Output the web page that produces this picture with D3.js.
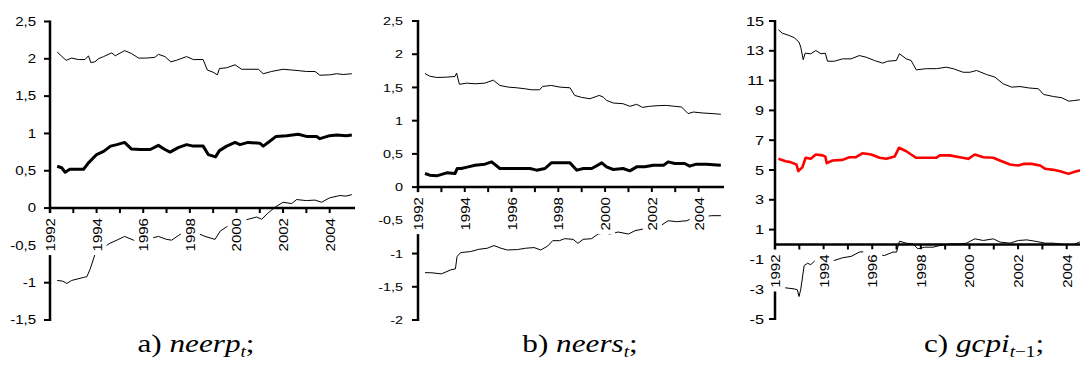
<!DOCTYPE html>
<html>
<head>
<meta charset="utf-8">
<script src="https://cdn.jsdelivr.net/npm/d3@7"></script>
<style>
  body { margin: 0; background: #fff; }
</style>
</head>
<body>
<svg id="chart" width="1080" height="380"></svg>
<script>
// values, as [year, value]
const tickYears = d3.range(1992, 2005);
const labelYears = d3.range(1992, 2005, 2);

const ticksA = [2.5, 2, 1.5, 1, 0.5, 0, -0.5, -1, -1.5];
const ticksB = [2.5, 2, 1.5, 1, 0.5, 0, -0.5, -1, -1.5, -2];
const ticksC = [15, 13, 11, 9, 7, 5, 3, 1, -1, -3, -5];

const neerpUpper = [[1992.31,2.09],[1992.5,2.035],[1992.69,1.98],[1992.93,2.01],[1993.22,1.99],[1993.5,1.99],[1993.65,2.04],[1993.75,1.95],[1993.93,1.96],[1994.07,2.0],[1994.3,2.03],[1994.65,2.08],[1994.8,2.04],[1995.2,2.11],[1995.5,2.07],[1995.8,2.01],[1996.15,2.01],[1996.5,2.02],[1996.65,2.06],[1996.93,2.03],[1997.18,1.96],[1997.43,1.98],[1997.86,2.03],[1998.15,1.99],[1998.57,1.99],[1998.75,1.85],[1999.0,1.82],[1999.18,1.785],[1999.27,1.87],[1999.58,1.88],[1999.94,1.92],[2000.22,1.86],[2000.58,1.86],[2000.94,1.86],[2001.15,1.80],[2001.5,1.83],[2002.0,1.86],[2002.37,1.85],[2002.72,1.84],[2003.0,1.83],[2003.37,1.83],[2003.58,1.78],[2004.0,1.785],[2004.3,1.80],[2004.58,1.79],[2004.95,1.80]];
const neerpMid = [[1992.31,0.56],[1992.5,0.54],[1992.65,0.48],[1992.85,0.52],[1993.44,0.52],[1993.65,0.605],[1994.0,0.717],[1994.3,0.76],[1994.6,0.83],[1994.87,0.85],[1995.2,0.88],[1995.5,0.79],[1995.87,0.785],[1996.3,0.785],[1996.65,0.84],[1996.93,0.785],[1997.15,0.75],[1997.5,0.81],[1997.86,0.85],[1998.15,0.83],[1998.57,0.83],[1998.79,0.717],[1999.1,0.686],[1999.27,0.77],[1999.58,0.83],[1999.94,0.88],[2000.15,0.85],[2000.5,0.88],[2001.0,0.87],[2001.15,0.83],[2001.43,0.895],[2001.7,0.96],[2002.15,0.97],[2002.65,0.99],[2003.0,0.96],[2003.44,0.96],[2003.58,0.93],[2004.0,0.97],[2004.3,0.98],[2004.72,0.97],[2004.95,0.98]];
const neerpLower = [[1992.31,-0.97],[1992.55,-0.98],[1992.72,-1.01],[1992.93,-0.97],[1993.43,-0.93],[1993.58,-0.92],[1993.72,-0.82],[1993.93,-0.62],[1994.15,-0.556],[1994.58,-0.47],[1994.87,-0.43],[1995.2,-0.38],[1995.58,-0.43],[1995.8,-0.45],[1996.4,-0.40],[1996.65,-0.38],[1997.0,-0.42],[1997.22,-0.43],[1997.5,-0.37],[1997.65,-0.34],[1998.08,-0.32],[1998.43,-0.35],[1998.65,-0.38],[1999.08,-0.42],[1999.3,-0.31],[1999.58,-0.25],[2000.15,-0.18],[2000.5,-0.15],[2000.87,-0.12],[2001.08,-0.15],[2001.36,-0.065],[2001.65,0.01],[2002.0,0.078],[2002.37,0.06],[2002.58,0.114],[2003.0,0.10],[2003.37,0.107],[2003.65,0.078],[2004.0,0.137],[2004.44,0.168],[2004.7,0.16],[2004.95,0.18]];

const neersUpper = [[1992.3,1.71],[1992.5,1.67],[1992.8,1.65],[1993.23,1.655],[1993.58,1.665],[1993.65,1.716],[1993.77,1.547],[1994.08,1.565],[1994.44,1.555],[1994.86,1.565],[1995.22,1.61],[1995.5,1.53],[1995.86,1.505],[1996.22,1.495],[1996.57,1.48],[1996.86,1.465],[1997.2,1.465],[1997.33,1.515],[1997.7,1.53],[1998.07,1.505],[1998.5,1.495],[1998.7,1.38],[1999.0,1.35],[1999.35,1.33],[1999.75,1.38],[1999.92,1.355],[2000.06,1.306],[2000.35,1.266],[2000.77,1.255],[2001.06,1.216],[2001.35,1.246],[2001.6,1.2],[2001.9,1.216],[2002.27,1.226],[2002.62,1.23],[2002.98,1.216],[2003.27,1.206],[2003.55,1.106],[2003.77,1.13],[2004.19,1.115],[2004.62,1.106],[2004.95,1.096]];
const neersMid = [[1992.3,0.205],[1992.5,0.18],[1992.8,0.17],[1993.23,0.215],[1993.58,0.205],[1993.68,0.28],[1993.85,0.28],[1994.15,0.305],[1994.44,0.33],[1994.86,0.345],[1995.15,0.38],[1995.5,0.28],[1995.93,0.28],[1996.36,0.28],[1996.79,0.28],[1997.07,0.255],[1997.43,0.28],[1997.7,0.365],[1998.07,0.365],[1998.5,0.365],[1998.79,0.255],[1999.07,0.28],[1999.43,0.28],[1999.86,0.365],[2000.06,0.305],[2000.35,0.265],[2000.77,0.28],[2001.06,0.245],[2001.35,0.305],[2001.7,0.305],[2002.06,0.33],[2002.5,0.33],[2002.7,0.38],[2002.98,0.355],[2003.4,0.355],[2003.62,0.315],[2003.9,0.345],[2004.33,0.345],[2004.95,0.33]];
const neersLower = [[1992.3,-1.287],[1992.6,-1.29],[1993.0,-1.306],[1993.4,-1.246],[1993.6,-1.23],[1993.67,-1.046],[1993.82,-0.986],[1994.25,-0.97],[1994.6,-0.936],[1994.96,-0.92],[1995.25,-0.88],[1995.55,-0.92],[1995.82,-0.946],[1996.25,-0.94],[1996.6,-0.92],[1996.96,-0.91],[1997.25,-0.946],[1997.55,-0.886],[1997.76,-0.806],[1998.05,-0.806],[1998.27,-0.776],[1998.63,-0.786],[1998.84,-0.846],[1999.06,-0.786],[1999.42,-0.776],[1999.7,-0.706],[2000.0,-0.69],[2000.2,-0.706],[2000.56,-0.676],[2001.0,-0.706],[2001.28,-0.656],[2001.63,-0.63],[2002.0,-0.6],[2002.42,-0.57],[2002.7,-0.506],[2003.06,-0.52],[2003.5,-0.506],[2003.7,-0.47],[2004.13,-0.446],[2004.56,-0.43],[2004.95,-0.43]];

const gcpiUpper = [[1992.14,14.41],[1992.3,14.18],[1992.58,14.03],[1992.79,13.88],[1992.99,13.58],[1993.06,13.24],[1993.16,12.4],[1993.24,12.84],[1993.47,12.8],[1993.68,13.02],[1993.89,12.8],[1994.07,12.84],[1994.16,12.3],[1994.44,12.3],[1994.78,12.46],[1995.13,12.46],[1995.47,12.68],[1995.75,12.57],[1996.09,12.35],[1996.43,12.17],[1996.64,12.3],[1996.99,12.35],[1997.12,12.8],[1997.4,12.46],[1997.6,12.35],[1997.81,11.72],[1998.23,11.8],[1998.64,11.8],[1999.05,11.9],[1999.33,11.8],[1999.74,11.56],[2000.02,11.56],[2000.29,11.68],[2000.7,11.41],[2001.05,11.23],[2001.39,10.78],[2001.74,10.56],[2002.08,10.6],[2002.43,10.51],[2002.84,10.45],[2003.05,10.07],[2003.46,9.93],[2003.8,9.85],[2004.08,9.62],[2004.29,9.66],[2004.53,9.71],[2004.95,9.75]];
const gcpiMid = [[1992.14,5.75],[1992.44,5.59],[1992.64,5.53],[1992.88,5.37],[1992.96,4.92],[1993.13,5.19],[1993.26,5.82],[1993.47,5.75],[1993.68,6.04],[1993.96,5.98],[1994.07,5.9],[1994.13,5.46],[1994.37,5.64],[1994.78,5.68],[1995.06,5.86],[1995.33,5.86],[1995.61,6.13],[1995.96,6.04],[1996.3,5.82],[1996.58,5.75],[1996.92,5.9],[1997.1,6.49],[1997.4,6.26],[1997.6,6.04],[1997.81,5.82],[1998.23,5.82],[1998.64,5.82],[1998.78,5.98],[1999.19,5.98],[1999.6,5.86],[1999.95,5.75],[2000.22,6.04],[2000.57,5.86],[2000.98,5.82],[2001.25,5.64],[2001.67,5.37],[2002.01,5.3],[2002.22,5.41],[2002.56,5.41],[2002.91,5.3],[2003.12,5.08],[2003.46,5.01],[2003.73,4.92],[2004.08,4.74],[2004.29,4.86],[2004.53,4.97],[2004.95,5.0]];
const gcpiLower = [[1992.14,-2.95],[1992.44,-2.91],[1992.79,-2.98],[1992.92,-3.04],[1992.99,-3.49],[1993.06,-3.0],[1993.2,-1.41],[1993.34,-1.26],[1993.47,-1.35],[1993.68,-1.03],[1994.44,-1.07],[1994.78,-0.89],[1995.13,-0.8],[1995.47,-0.51],[1995.81,-0.46],[1996.09,-0.63],[1996.5,-0.74],[1996.85,-0.51],[1997.0,-0.51],[1997.12,0.22],[1997.4,0.09],[1997.67,0.04],[1997.88,-0.29],[1998.16,-0.18],[1998.5,-0.18],[1998.78,-0.07],[1999.19,0.04],[1999.6,0.04],[1999.88,0.09],[2000.22,0.38],[2000.57,0.27],[2000.98,0.38],[2001.26,0.16],[2001.67,0.09],[2002.01,0.27],[2002.36,0.31],[2002.7,0.22],[2003.12,0.09],[2003.46,0.09],[2003.87,0.0],[2004.29,0.0],[2004.53,0.16],[2004.95,0.2]];

// layout of the three small charts
const panels = [
  { x0: 50, x1: 353, yTop: 21.5, yBot: 320, dom: [-1.5, 2.5], ticks: ticksA, fs: 12, gap: 14,
    series: [{d: neerpUpper, w: 1, c: "#000"}, {d: neerpMid, w: 3, c: "#000"}, {d: neerpLower, w: 1, c: "#000"}],
    cap: {x: 196, pre: "a) ", name: "neerp", sub: "t", subTail: ""} },
  { x0: 418, x1: 722, yTop: 21, yBot: 320, dom: [-2, 2.5], ticks: ticksB, fs: 11.5, gap: 15,
    series: [{d: neersUpper, w: 1, c: "#000"}, {d: neersMid, w: 3, c: "#000"}, {d: neersLower, w: 1, c: "#000"}],
    cap: {x: 580, pre: "b) ", name: "neers", sub: "t", subTail: ""} },
  { x0: 775, x1: 1091, yTop: 21, yBot: 319, dom: [-5, 15], ticks: ticksC, fs: 13, gap: 11,
    series: [{d: gcpiUpper, w: 1, c: "#000"}, {d: gcpiMid, w: 2.6, c: "#ff0000"}, {d: gcpiLower, w: 1, c: "#000"}],
    cap: {x: 984, pre: "c) ", name: "gcpi", sub: "t", subTail: "\u22121"} }
];

const svg = d3.select("#chart");
const fmt = d3.formatLocale({decimal: ",", thousands: " ", grouping: [3], currency: ["", ""], minus: "-"}).format("~g");
const SX = 1.25; // the source text is drawn wide

// stretch a label along its own direction
function widen(sel, k) {
  sel.each(function() {
    let len = this.getComputedTextLength();
    d3.select(this).attr("textLength", len * k).attr("lengthAdjust", "spacingAndGlyphs");
  });
}

panels.forEach(p => {
  let g = svg.append("g");
  let x = d3.scaleLinear().domain([1992, 2005]).range([p.x0, p.x1]);
  let y = d3.scaleLinear().domain(p.dom).range([p.yBot, p.yTop]);
  let y0 = y(0);

  // lines
  let line = d3.line().x(d => x(d[0])).y(d => y(d[1]));
  g.selectAll(".series")
    .data(p.series)
    .enter()
    .append("path")
    .attr("d", s => line(s.d))
    .attr("fill", "none")
    .attr("stroke", s => s.c)
    .attr("stroke-width", s => s.w)
    .attr("stroke-linejoin", "round");

  // axes
  g.append("line")
    .attr("x1", p.x0).attr("x2", p.x0)
    .attr("y1", p.yTop - 1).attr("y2", p.yBot + 1)
    .attr("stroke", "#000").attr("stroke-width", 2.5);
  g.append("line")
    .attr("x1", p.x0).attr("x2", p.x1 + 2)
    .attr("y1", y0).attr("y2", y0)
    .attr("stroke", "#000").attr("stroke-width", 2.5);

  g.selectAll(".ytick")
    .data(p.ticks)
    .enter()
    .append("line")
    .attr("x1", p.x0 - 6).attr("x2", p.x0)
    .attr("y1", d => y(d)).attr("y2", d => y(d))
    .attr("stroke", "#000").attr("stroke-width", 2);

  g.selectAll(".xtick")
    .data(tickYears)
    .enter()
    .append("line")
    .attr("x1", d => x(d)).attr("x2", d => x(d))
    .attr("y1", y0).attr("y2", y0 + 5)
    .attr("stroke", "#000").attr("stroke-width", 2);

  // y labels
  g.selectAll(".ylab")
    .data(p.ticks)
    .enter()
    .append("text")
    .attr("x", p.x0 - p.gap)
    .attr("y", d => y(d))
    .attr("dy", "0.36em")
    .attr("text-anchor", "end")
    .style("font-family", "'Liberation Sans', Arial, sans-serif")
    .style("font-size", p.fs + "px")
    .text(d => fmt(d))
    .call(widen, SX);

  // x labels, drawn on opaque white boxes like the source
  g.selectAll(".xbox")
    .data(labelYears)
    .enter()
    .append("rect")
    .attr("x", d => x(d) - 9)
    .attr("y", y0 + 5)
    .attr("width", 19)
    .attr("height", 42)
    .attr("fill", "#fff");

  g.selectAll(".xlab")
    .data(labelYears)
    .enter()
    .append("text")
    .attr("transform", d => `translate(${x(d) + 1},${y0 + 10}) rotate(-90)`)
    .attr("dominant-baseline", "central")
    .attr("text-anchor", "end")
    .style("font-family", "'Liberation Sans', Arial, sans-serif")
    .style("font-size", "12px")
    .text(d => d)
    .call(widen, SX);

  // caption
  let cap = svg.append("text")
    .attr("transform", `translate(${p.cap.x},352) scale(1.2,1)`)
    .attr("text-anchor", "middle")
    .style("font-family", "'Liberation Serif', 'Times New Roman', serif")
    .style("font-size", "26px");
  cap.append("tspan").text(p.cap.pre);
  cap.append("tspan").style("font-style", "italic").text(p.cap.name);
  let sub = cap.append("tspan").attr("dy", 5).style("font-size", "16px");
  sub.append("tspan").style("font-style", "italic").text(p.cap.sub);
  if (p.cap.subTail) sub.append("tspan").text(p.cap.subTail);
  cap.append("tspan").attr("dy", -5).text(";");
});
</script>
</body>
</html>
